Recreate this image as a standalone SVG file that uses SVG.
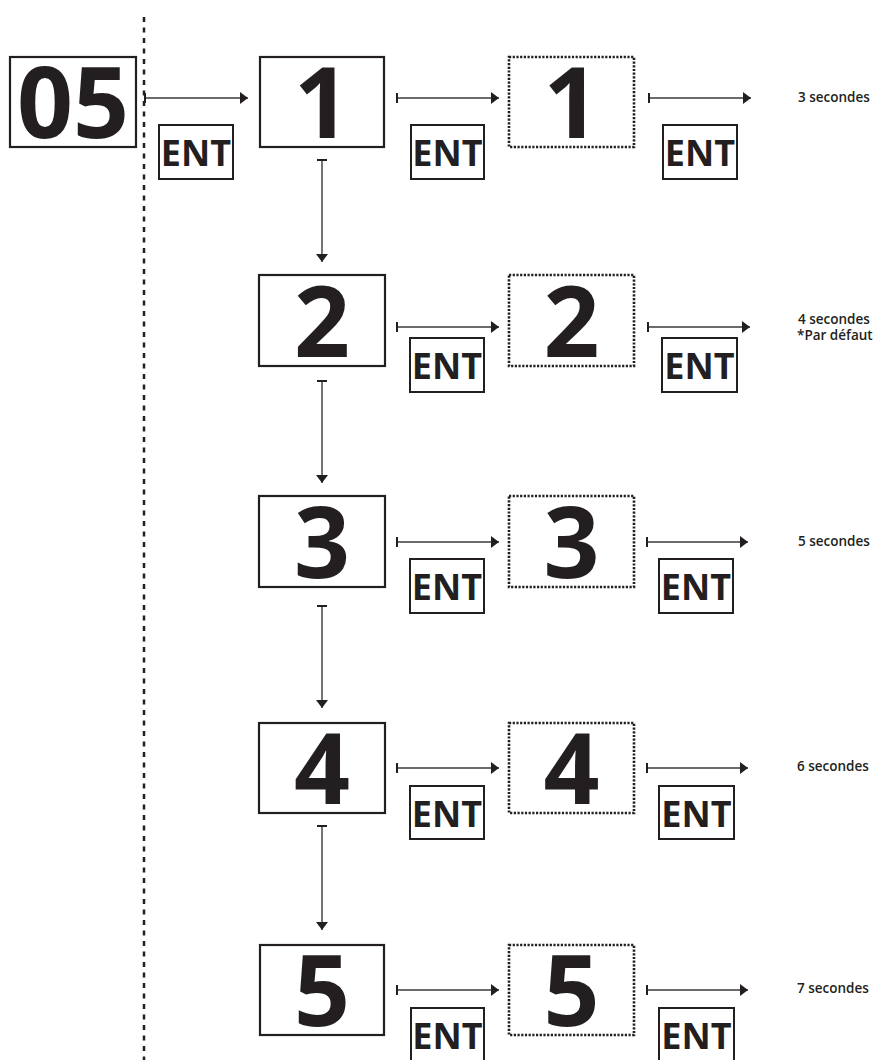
<svg xmlns="http://www.w3.org/2000/svg" width="877" height="1060" viewBox="0 0 877 1060">
<style>
.box{fill:#fff;stroke:#231f20;stroke-width:2.2}
.dot{fill:#fff;stroke:#231f20;stroke-width:2.6;stroke-dasharray:2.2 1.5}
.ent{fill:#fff;stroke:#231f20;stroke-width:2}
.big{font-family:"Open Sans","DejaVu Sans",sans-serif;font-weight:700;font-size:98px;fill:#231f20;text-anchor:middle}
.et{font-family:"Open Sans","DejaVu Sans",sans-serif;font-weight:700;font-size:36px;fill:#231f20;text-anchor:middle}
.lbl{font-family:"Open Sans","DejaVu Sans",sans-serif;font-weight:600;font-size:13.5px;fill:#231f20}
.con{stroke:#3a3a3a;stroke-width:1.4;fill:none;marker-start:url(#tick);marker-end:url(#head)}
</style>
<defs>
<marker id="head" markerUnits="userSpaceOnUse" markerWidth="8" markerHeight="12" refX="8" refY="6" orient="auto"><path d="M0,0 L8,6 L0,12 Z" fill="#231f20"/></marker>
<marker id="tick" markerUnits="userSpaceOnUse" markerWidth="2" markerHeight="10" refX="1" refY="5" orient="auto"><rect x="0" y="0" width="2" height="10" fill="#231f20"/></marker>
</defs>
<rect width="877" height="1060" fill="#fff"/>
<line x1="144" y1="17" x2="144" y2="1060" stroke="#231f20" stroke-width="2.5" stroke-dasharray="5 5.5"/>

<g id="connectors">
<line class="con" x1="145" y1="98" x2="248" y2="98"/>
<line class="con" x1="397" y1="98" x2="499" y2="98"/>
<line class="con" x1="649" y1="98" x2="751" y2="98"/>
<line class="con" x1="397" y1="327" x2="499" y2="327"/>
<line class="con" x1="648" y1="327" x2="750" y2="327"/>
<line class="con" x1="397" y1="542" x2="499" y2="542"/>
<line class="con" x1="647" y1="542" x2="748" y2="542"/>
<line class="con" x1="397" y1="768" x2="499" y2="768"/>
<line class="con" x1="647" y1="768" x2="748" y2="768"/>
<line class="con" x1="397" y1="990" x2="499" y2="990"/>
<line class="con" x1="647" y1="990" x2="748" y2="990"/>
<line class="con" x1="322" y1="160" x2="322" y2="262"/>
<line class="con" x1="322" y1="381" x2="322" y2="483"/>
<line class="con" x1="322" y1="606" x2="322" y2="708"/>
<line class="con" x1="322" y1="826" x2="322" y2="930"/>
</g>

<g id="n05"><rect class="box" x="10" y="57" width="126" height="90"/><text class="big" x="73" y="138">05</text></g>
<g id="ent0"><rect class="ent" x="159" y="125" width="74" height="54"/><text class="et" x="196" y="166">ENT</text></g>

<g id="n1"><rect class="box" x="260" y="57" width="124" height="90"/><text class="big" x="322" y="138">1</text></g>
<g id="ent1a"><rect class="ent" x="411" y="125" width="73" height="54"/><text class="et" x="447.5" y="166">ENT</text></g>
<g id="n1b"><rect class="dot" x="509" y="57" width="125" height="90"/><text class="big" x="571.5" y="138">1</text></g>
<g id="ent1b"><rect class="ent" x="663" y="125" width="74" height="54"/><text class="et" x="700" y="166">ENT</text></g>
<text id="t1" class="lbl" x="798" y="102">3 secondes</text>

<g id="n2"><rect class="box" x="259" y="275" width="126" height="91"/><text class="big" x="322" y="357">2</text></g>
<g id="ent2a"><rect class="ent" x="410" y="338" width="74" height="54"/><text class="et" x="447" y="379">ENT</text></g>
<g id="n2b"><rect class="dot" x="509" y="275" width="125" height="91"/><text class="big" x="571.5" y="357">2</text></g>
<g id="ent2b"><rect class="ent" x="662" y="338" width="75" height="54"/><text class="et" x="699.5" y="379">ENT</text></g>
<text id="t2a" class="lbl" x="798" y="324">4 secondes</text>
<text id="t2b" class="lbl" x="797" y="340">*Par défaut</text>

<g id="n3"><rect class="box" x="259" y="496" width="126" height="91"/><text class="big" x="322" y="578">3</text></g>
<g id="ent3a"><rect class="ent" x="410" y="559" width="74" height="54"/><text class="et" x="447" y="600">ENT</text></g>
<g id="n3b"><rect class="dot" x="509" y="496" width="125" height="91"/><text class="big" x="571.5" y="578">3</text></g>
<g id="ent3b"><rect class="ent" x="659" y="559" width="74" height="54"/><text class="et" x="696" y="600">ENT</text></g>
<text id="t3" class="lbl" x="798" y="546">5 secondes</text>

<g id="n4"><rect class="box" x="259" y="723" width="126" height="90"/><text class="big" x="322" y="804">4</text></g>
<g id="ent4a"><rect class="ent" x="410" y="786" width="74" height="53"/><text class="et" x="447" y="827">ENT</text></g>
<g id="n4b"><rect class="dot" x="509" y="723" width="125" height="90"/><text class="big" x="571.5" y="804">4</text></g>
<g id="ent4b"><rect class="ent" x="659" y="786" width="75" height="53"/><text class="et" x="696.5" y="827">ENT</text></g>
<text id="t4" class="lbl" x="797" y="771">6 secondes</text>

<g id="n5"><rect class="box" x="260" y="945" width="124" height="90"/><text class="big" x="322" y="1026">5</text></g>
<g id="ent5a"><rect class="ent" x="411" y="1008" width="73" height="54"/><text class="et" x="447.5" y="1049">ENT</text></g>
<g id="n5b"><rect class="dot" x="509" y="945" width="125" height="90"/><text class="big" x="571.5" y="1026">5</text></g>
<g id="ent5b"><rect class="ent" x="659" y="1008" width="75" height="54"/><text class="et" x="696.5" y="1049">ENT</text></g>
<text id="t5" class="lbl" x="797" y="993">7 secondes</text>
</svg>
